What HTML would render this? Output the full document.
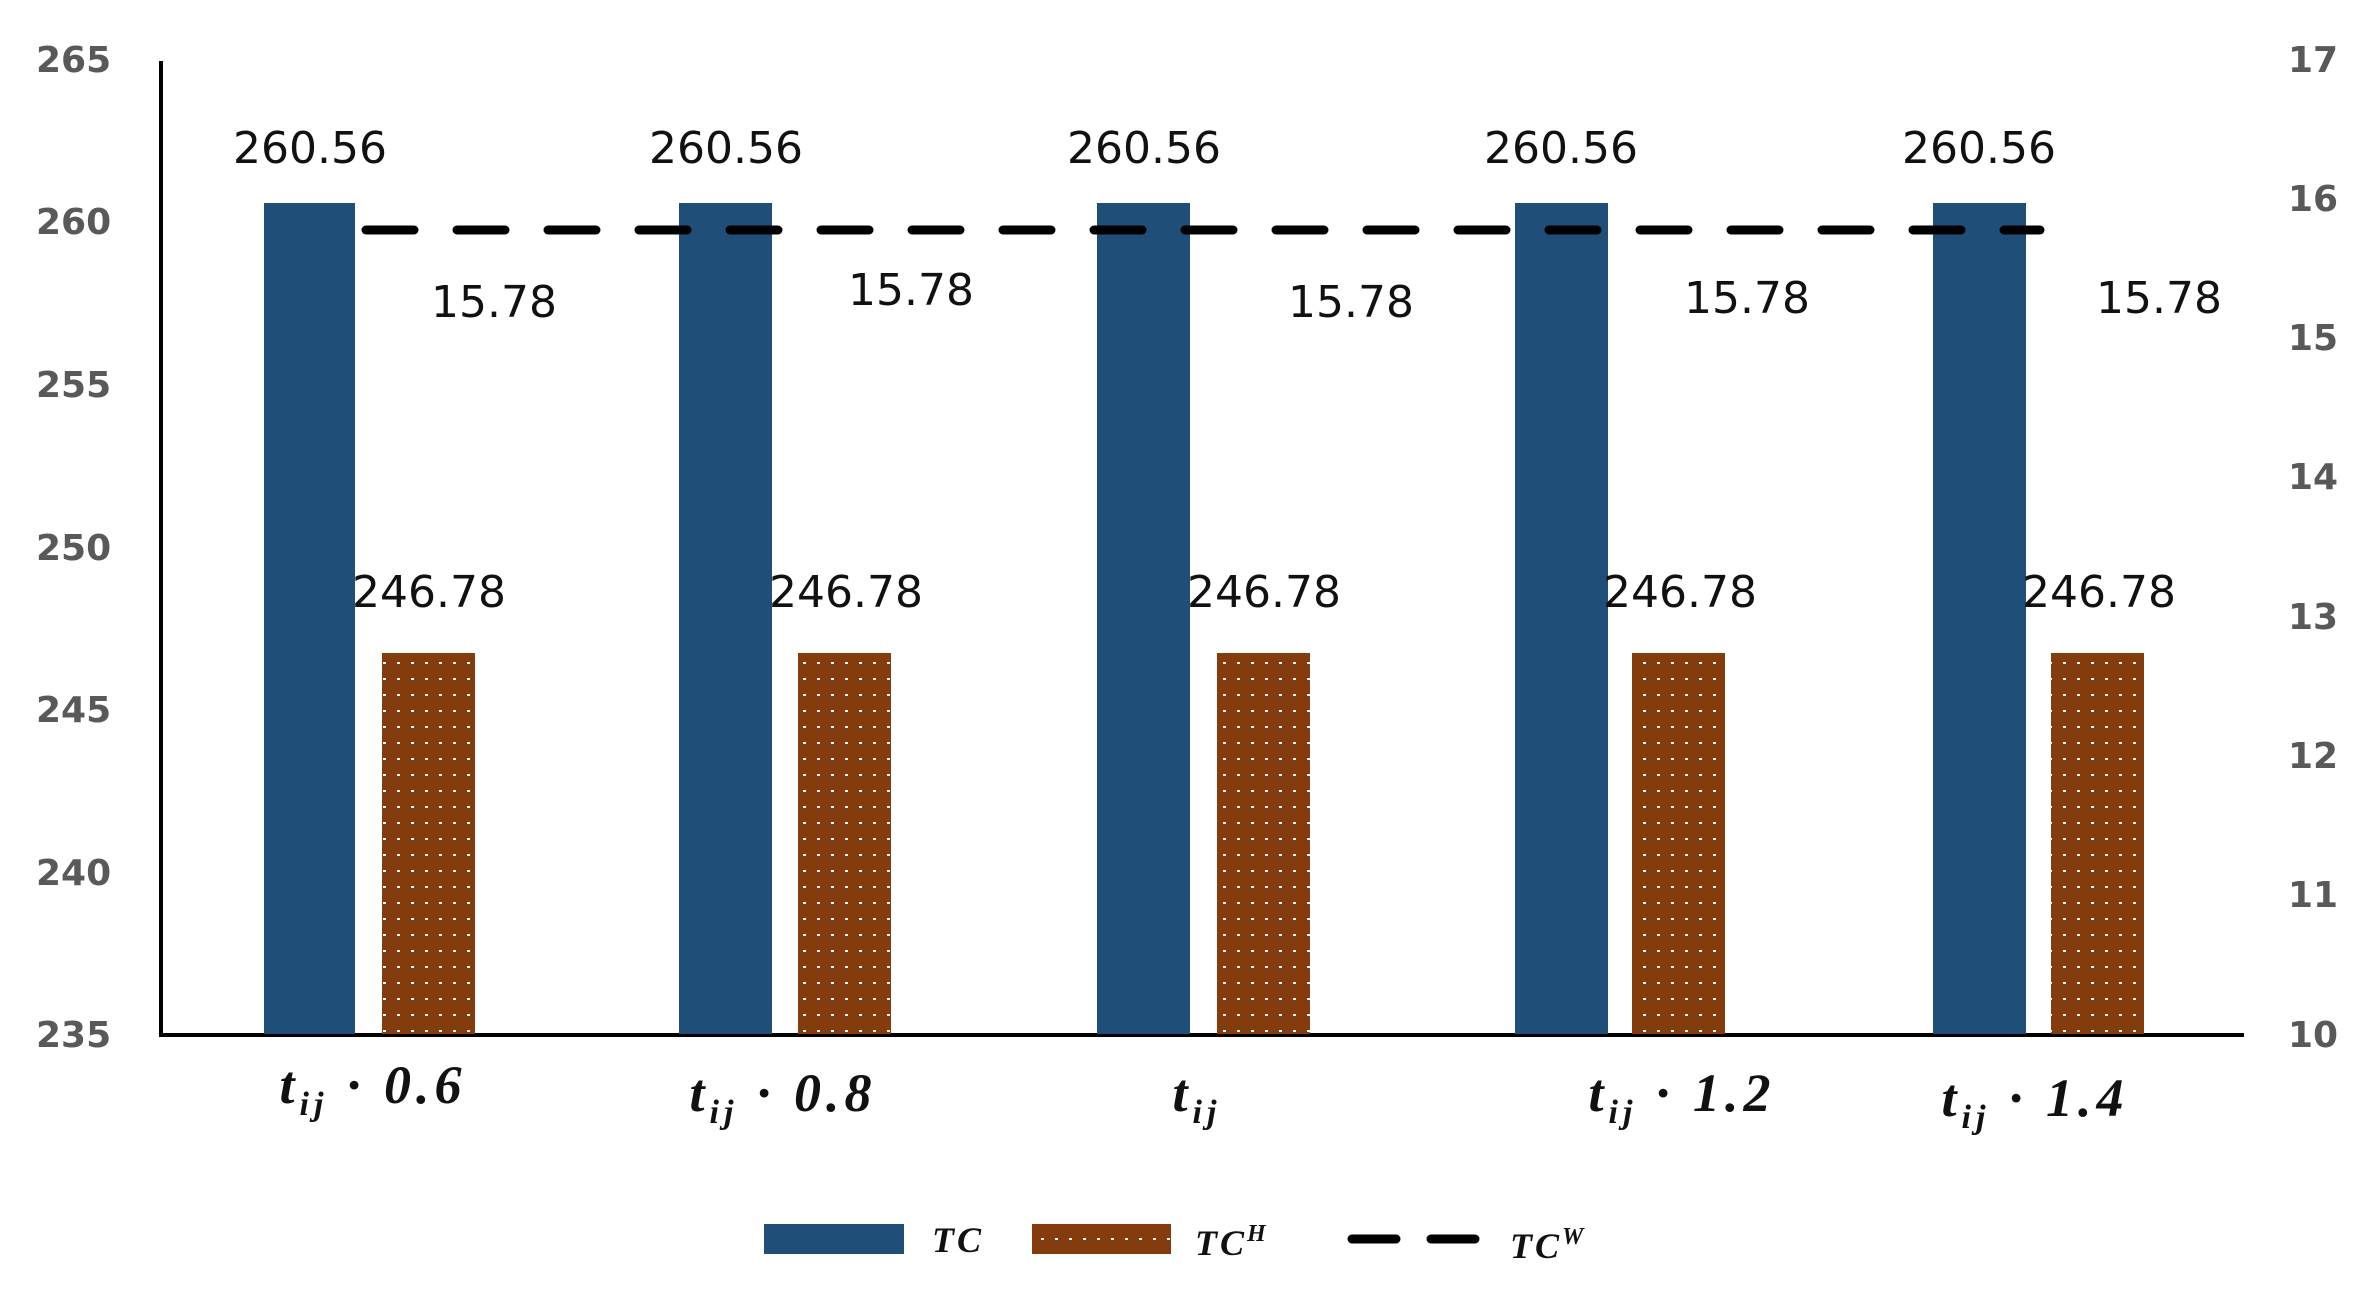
<!DOCTYPE html>
<html><head><meta charset="utf-8"><style>
body{margin:0;background:#fff}
svg{display:block}
.tk{font-family:"DejaVu Sans","Liberation Sans",sans-serif;font-weight:bold;fill:#595959;font-size:36px}
.dl{font-family:"DejaVu Sans","Liberation Sans",sans-serif;fill:#111;font-size:44px}
.xl{font-family:"Liberation Serif",serif;font-weight:bold;font-style:italic;fill:#111;font-size:54px;letter-spacing:5px}
</style></head><body>
<svg width="2376" height="1293" viewBox="0 0 2376 1293">
<defs>
<pattern id="dots" width="14" height="16" patternUnits="userSpaceOnUse">
<rect width="14" height="16" fill="#843c0c"/>
<rect x="5" y="6" width="3" height="2" fill="#fff"/>
</pattern>
</defs>
<g class="tk" text-anchor="start">
<text x="36" y="72">265</text><text x="36" y="234">260</text><text x="36" y="397">255</text>
<text x="36" y="560">250</text><text x="36" y="722">245</text><text x="36" y="885">240</text><text x="36" y="1047">235</text>
<text x="2288" y="72">17</text><text x="2288" y="211">16</text><text x="2288" y="350">15</text>
<text x="2288" y="489">14</text><text x="2288" y="629">13</text><text x="2288" y="768">12</text>
<text x="2288" y="907">11</text><text x="2288" y="1047">10</text>
</g>
<line x1="161" y1="61" x2="161" y2="1036" stroke="#000" stroke-width="4"/>
<line x1="159" y1="1035" x2="2244" y2="1035" stroke="#000" stroke-width="4"/>
<g fill="#1f4e79">
<rect x="264" y="203" width="91" height="831"/><rect x="679" y="203" width="93" height="831"/>
<rect x="1097" y="203" width="93" height="831"/><rect x="1515" y="203" width="93" height="831"/>
<rect x="1933" y="203" width="93" height="831"/>
</g>
<g fill="url(#dots)">
<rect x="382" y="653" width="93" height="381"/><rect x="798" y="653" width="93" height="381"/>
<rect x="1217" y="653" width="93" height="381"/><rect x="1632" y="653" width="93" height="381"/>
<rect x="2051" y="653" width="93" height="381"/>
</g>
<line x1="366" y1="230" x2="2040" y2="230" stroke="#000" stroke-width="9" stroke-linecap="round" stroke-dasharray="48 43"/>
<g class="dl" text-anchor="middle">
<text x="310" y="163">260.56</text><text x="726" y="163">260.56</text><text x="1144" y="163">260.56</text>
<text x="1561" y="163">260.56</text><text x="1979" y="163">260.56</text>
<text x="429" y="607">246.78</text><text x="846" y="607">246.78</text><text x="1264" y="607">246.78</text>
<text x="1680" y="607">246.78</text><text x="2099" y="607">246.78</text>
<text x="494" y="317">15.78</text><text x="911" y="305">15.78</text><text x="1351" y="317">15.78</text>
<text x="1747" y="313">15.78</text><text x="2159" y="313">15.78</text>
</g>
<g class="xl" text-anchor="middle">
<text x="373" y="1103">t<tspan font-size="34" dy="12">ij</tspan><tspan dy="-12"> · 0.6</tspan></text>
<text x="783" y="1111">t<tspan font-size="34" dy="12">ij</tspan><tspan dy="-12"> · 0.8</tspan></text>
<text x="1197" y="1111">t<tspan font-size="34" dy="12">ij</tspan></text>
<text x="1682" y="1111">t<tspan font-size="34" dy="12">ij</tspan><tspan dy="-12"> · 1.2</tspan></text>
<text x="2035" y="1116">t<tspan font-size="34" dy="12">ij</tspan><tspan dy="-12"> · 1.4</tspan></text>
</g>
<rect x="764" y="1224" width="140" height="30" fill="#1f4e79"/>
<rect x="1032" y="1224" width="139" height="30" fill="url(#dots)"/>
<line x1="1352" y1="1239" x2="1475" y2="1239" stroke="#000" stroke-width="9" stroke-linecap="round" stroke-dasharray="44 35"/>
<g class="xl" style="letter-spacing:3px">
<text x="932" y="1252" font-size="36">TC</text>
<text x="1195" y="1255" font-size="36">TC<tspan font-size="24" dy="-14">H</tspan></text>
<text x="1510" y="1258" font-size="36">TC<tspan font-size="24" dy="-14">W</tspan></text>
</g>
</svg>
</body></html>
